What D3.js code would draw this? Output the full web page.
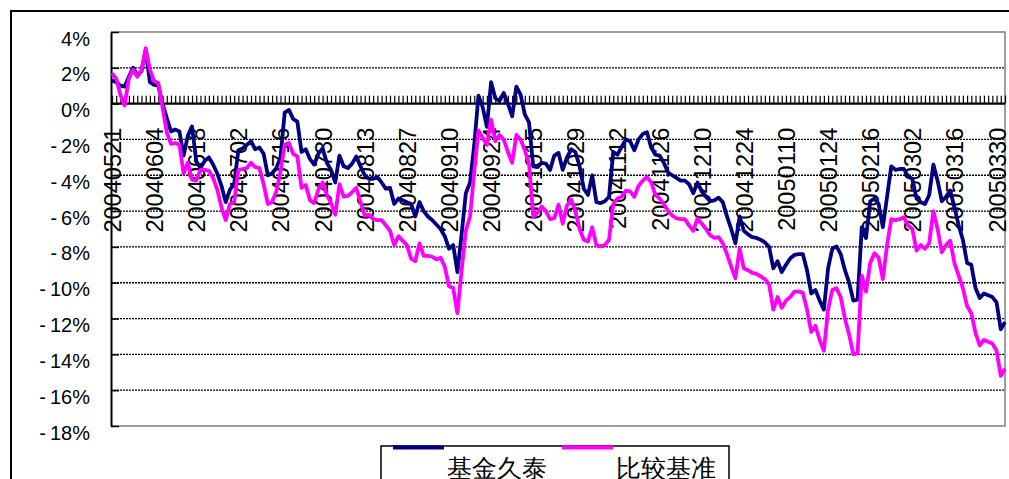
<!DOCTYPE html>
<html>
<head>
<meta charset="utf-8">
<script src="https://cdn.jsdelivr.net/npm/d3@7"></script>
<style>
  body { margin: 0; background: #fff; }
  #chart { width: 1009px; height: 479px; }
  text { font-family: "Liberation Sans", Arial, sans-serif; fill: #000; }
</style>
</head>
<body>
<div id="chart"></div>
<script>
// series names
var seriesNames = ["基金久泰", "比较基准"];

// x tick labels, one every 10 trading days
var dateLabels = ["20040521", "20040604", "20040618", "20040702", "20040716", "20040730",
    "20040813", "20040827", "20040910", "20040924", "20041015", "20041029", "20041112",
    "20041126", "20041210", "20041224", "20050110", "20050124", "20050216", "20050302",
    "20050316", "20050330"];

// y tick labels
var yTicks = [4, 2, 0, -2, -4, -6, -8, -10, -12, -14, -16, -18];
var yTickLabels = ["4%", "2%", "0%", "-2%", "-4%", "-6%", "-8%", "-10%", "-12%", "-14%", "-16%", "-18%"];

// 基金久泰 cumulative return (%)
var fundValues = [1.3, 1.2, 1.0, 0.95, 1.5, 2.0, 1.6, 1.8, 3.0, 1.2,
    1.05, 1.0, 0.0, -0.8, -1.55, -1.45, -1.55, -2.9, -1.8, -1.27,
    -3.2, -3.6, -3.2, -3.0, -3.4, -3.9, -4.6, -5.5, -4.8, -4.5,
    -2.6, -2.5, -2.3, -2.1, -2.55, -2.45, -2.8, -4.0, -3.9, -3.6,
    -3.0, -0.5, -0.35, -0.85, -1.0, -2.7, -2.55, -3.1, -3.4, -2.8,
    -2.5, -3.3, -3.7, -4.4, -2.9, -3.5, -3.6, -3.35, -2.95, -3.5,
    -4.0, -4.2, -4.2, -4.1, -4.4, -4.75, -4.7, -5.6, -5.3, -5.4,
    -5.5, -5.6, -6.3, -5.5, -6.0, -6.3, -6.5, -6.75, -7.0, -7.4,
    -8.1, -7.9, -9.4, -7.3, -5.0, -4.4, -2.3, 0.45, -0.2, -1.3,
    1.2, 0.3, 0.15, 0.6, 0.0, -0.7, 0.95, 0.5, -0.6, -1.05,
    -3.5, -3.55, -3.3, -3.35, -3.7, -2.9, -2.75, -3.7, -3.0, -2.55,
    -2.7, -3.5, -4.75, -5.1, -4.0, -5.5, -5.55, -5.45, -5.2, -2.7,
    -2.85, -2.4, -2.0, -2.1, -2.6, -2.0, -1.7, -1.6, -2.45, -2.85,
    -2.9, -3.3, -3.85, -4.0, -4.15, -4.3, -4.3, -4.5, -5.0, -4.4,
    -4.9, -5.2, -5.45, -5.4, -5.25, -5.5, -6.3, -7.0, -7.8, -6.3,
    -7.1, -7.3, -7.45, -7.5, -7.6, -7.75, -8.0, -9.2, -8.8, -9.4,
    -9.0, -8.65, -8.45, -8.4, -8.4, -9.3, -10.6, -10.4, -11.0, -11.5,
    -9.2, -8.1, -7.97, -8.4, -9.3, -10.0, -11.0, -10.95, -6.9, -7.5,
    -5.45, -5.3, -5.6, -6.9, -5.2, -3.5, -3.7, -3.65, -3.65, -4.06,
    -4.2, -5.3, -5.5, -5.6, -5.1, -3.4, -4.3, -5.45, -5.2, -4.85,
    -5.8, -6.8, -7.6, -8.9, -9.0, -10.3, -10.85, -10.6, -10.7, -10.8,
    -11.1, -12.6, -12.2];

// 比较基准 cumulative return (%)
var benchValues = [1.7, 1.4, 0.5, -0.1, 1.4, 1.9, 1.5, 1.85, 3.1, 1.9,
    1.25, 1.15, -0.2, -1.6, -2.25, -2.2, -2.3, -3.9, -3.3, -4.25,
    -4.3, -3.7, -3.7, -3.75, -4.15, -4.8, -5.8, -6.5, -5.6, -5.5,
    -3.7, -3.65, -3.6, -3.3, -3.55, -3.6, -4.5, -5.6, -5.5, -4.9,
    -3.8, -2.3, -2.2, -2.8, -2.95, -4.7, -4.55, -5.4, -5.55, -4.8,
    -4.4, -5.1, -5.55, -6.2, -4.5, -5.2, -5.15, -4.95, -4.7, -5.5,
    -6.25, -6.2, -6.45, -6.5, -6.5, -6.8, -7.1, -7.9, -7.4, -7.65,
    -7.9, -8.65, -8.8, -7.8, -8.5, -8.5, -8.55, -8.7, -8.6, -9.1,
    -10.2, -10.3, -11.7, -9.3, -7.1, -6.3, -3.8, -1.5, -1.9, -2.3,
    -0.9, -2.1, -1.75, -2.0, -2.7, -3.3, -1.75, -2.0, -2.6, -3.35,
    -6.3, -6.1, -5.75, -6.0, -6.45, -6.4, -5.65, -6.7, -5.7, -5.35,
    -6.0, -7.0, -7.6, -7.7, -6.9, -7.9, -7.97, -7.9, -7.6, -5.6,
    -5.3, -5.2, -4.85, -4.9, -5.2, -4.6, -4.3, -4.1, -4.4, -5.1,
    -5.3, -5.6, -6.0, -6.25, -6.4, -6.45, -6.45, -6.8, -7.1, -6.4,
    -6.7, -7.0, -7.35, -7.5, -7.45, -7.8, -8.4, -9.1, -9.75, -8.1,
    -9.2, -9.3, -9.45, -9.5, -9.65, -9.8, -10.1, -11.5, -10.8, -11.4,
    -11.0, -10.8, -10.5, -10.5, -10.55, -11.5, -12.75, -12.4, -13.2, -13.8,
    -11.5, -10.4, -10.3, -10.8, -12.0, -12.9, -14.0, -13.95, -9.6, -10.5,
    -8.9, -8.35, -8.6, -9.8, -7.9, -6.45, -6.5, -6.45, -6.35, -6.8,
    -7.0, -8.2, -7.9, -8.1, -7.8, -6.0, -7.0, -8.3, -7.9, -7.65,
    -8.9, -9.6, -10.3, -11.3, -11.7, -12.8, -13.5, -13.2, -13.3, -13.4,
    -13.8, -15.2, -14.8];

var colors = ["#000080", "#ff00ff"];

/* DIMENSIONS */
var width = 1009,
    height = 479;
var plot = { left: 111, top: 32, right: 1005, bottom: 426 };

var svg = d3.select("#chart")
    .append("svg")
    .attr("width", width)
    .attr("height", height);

// outer chart frame (runs off the right and bottom edge)
svg.append("rect")
    .attr("x", 11)
    .attr("y", 11)
    .attr("width", 1040)
    .attr("height", 520)
    .attr("fill", "#fff")
    .attr("stroke", "#000")
    .attr("stroke-width", 2);

/* SCALES */
var n = fundValues.length;
var x = d3.scaleLinear()
    .domain([0, n - 1])
    .range([plot.left + 1, plot.right]);

var y = d3.scaleLinear()
    .domain([-18, 4])
    .range([plot.bottom, plot.top]);

/* GRIDLINES */
svg.append("g")
    .selectAll("line")
    .data(yTicks.filter(d => d !== 4 && d !== -18 && d !== 0))
    .enter()
    .append("line")
        .attr("x1", plot.left)
        .attr("x2", plot.right)
        .attr("y1", d => y(d))
        .attr("y2", d => y(d))
        .attr("stroke", "#000")
        .attr("stroke-width", 1.3)
        .attr("stroke-dasharray", "2,1");

// gray plot-area border (top, right, bottom)
svg.append("path")
    .attr("d", `M${plot.left},${plot.top}H${plot.right}V${plot.bottom}H${plot.left}`)
    .attr("fill", "none")
    .attr("stroke", "#808080")
    .attr("stroke-width", 1.5);

/* Y AXIS */
var yAxis = svg.append("g")
    .attr("transform", `translate(${plot.left},0)`)
    .call(d3.axisLeft(y)
        .tickValues(yTicks)
        .tickSizeInner(-8)
        .tickSizeOuter(0)
        .tickPadding(21)
        .tickFormat((d, i) => yTickLabels[i]));

yAxis.select(".domain").attr("stroke", "#000").attr("stroke-width", 2);
yAxis.selectAll(".tick line").attr("stroke", "#000").attr("stroke-width", 1.5);
yAxis.selectAll(".tick text")
    .attr("font-size", "20px")
    .attr("font-family", "'Liberation Sans', Arial, sans-serif")
    .attr("dy", "13")
    .text(null)
    .each(function(d, i) {
        var label = yTickLabels[i];
        var t = d3.select(this);
        if (label[0] === "-") {
            t.append("tspan").text("-");
            t.append("tspan").attr("dx", 4).text(label.slice(1));
        } else {
            t.text(label);
        }
    });

/* X AXIS at 0% with a tick per trading day */
var xAxis = svg.append("g")
    .attr("transform", `translate(0,${y(0)})`)
    .call(d3.axisBottom(x)
        .tickValues(d3.range(n))
        .tickSizeInner(-8)
        .tickSizeOuter(0)
        .tickFormat(""));

xAxis.select(".domain")
    .attr("d", `M${plot.left},0H${plot.right}`)
    .attr("stroke", "#000")
    .attr("stroke-width", 2.2);
xAxis.selectAll(".tick line").attr("stroke", "#000").attr("stroke-width", 1.2);

// date labels every 10 trading days
var labelAxis = svg.append("g")
    .attr("transform", `translate(0,${y(0)})`)
    .call(d3.axisBottom(x)
        .tickValues(dateLabels.map((d, i) => i * 10))
        .tickSize(0)
        .tickFormat((d, i) => dateLabels[i]));

labelAxis.select(".domain").remove();
labelAxis.selectAll(".tick text")
    .attr("font-size", "23.6px")
    .attr("font-family", "'Liberation Sans', Arial, sans-serif")
    .attr("text-anchor", "end")
    .attr("transform", "rotate(-90)")
    .attr("x", -24)
    .attr("y", 0)
    .attr("dy", "0.36em");

/* LINES */
var line = d3.line()
    .x((d, i) => x(i))
    .y(d => y(d));

[fundValues, benchValues].forEach(function(vals, k) {
    svg.append("path")
        .datum(vals)
        .attr("d", line)
        .attr("fill", "none")
        .attr("stroke", colors[k])
        .attr("stroke-width", 3.8)
        .attr("stroke-linejoin", "round");
});

/* LEGEND */
var legend = svg.append("g");

legend.append("rect")
    .attr("x", 381)
    .attr("y", 446)
    .attr("width", 348)
    .attr("height", 60)
    .attr("fill", "#fff")
    .attr("stroke", "#000")
    .attr("stroke-width", 1.5);

var legendX = [393, 562];
seriesNames.forEach(function(name, k) {
    legend.append("line")
        .attr("x1", legendX[k])
        .attr("x2", legendX[k] + 51)
        .attr("y1", 447.5)
        .attr("y2", 447.5)
        .attr("stroke", colors[k])
        .attr("stroke-width", 3.8);
    legend.append("text")
        .attr("x", legendX[k] + 54)
        .attr("y", 477)
        .attr("font-family", "'Noto Sans CJK SC', sans-serif")
        .attr("font-size", "25px")
        .text(name);
});
</script>
</body>
</html>
